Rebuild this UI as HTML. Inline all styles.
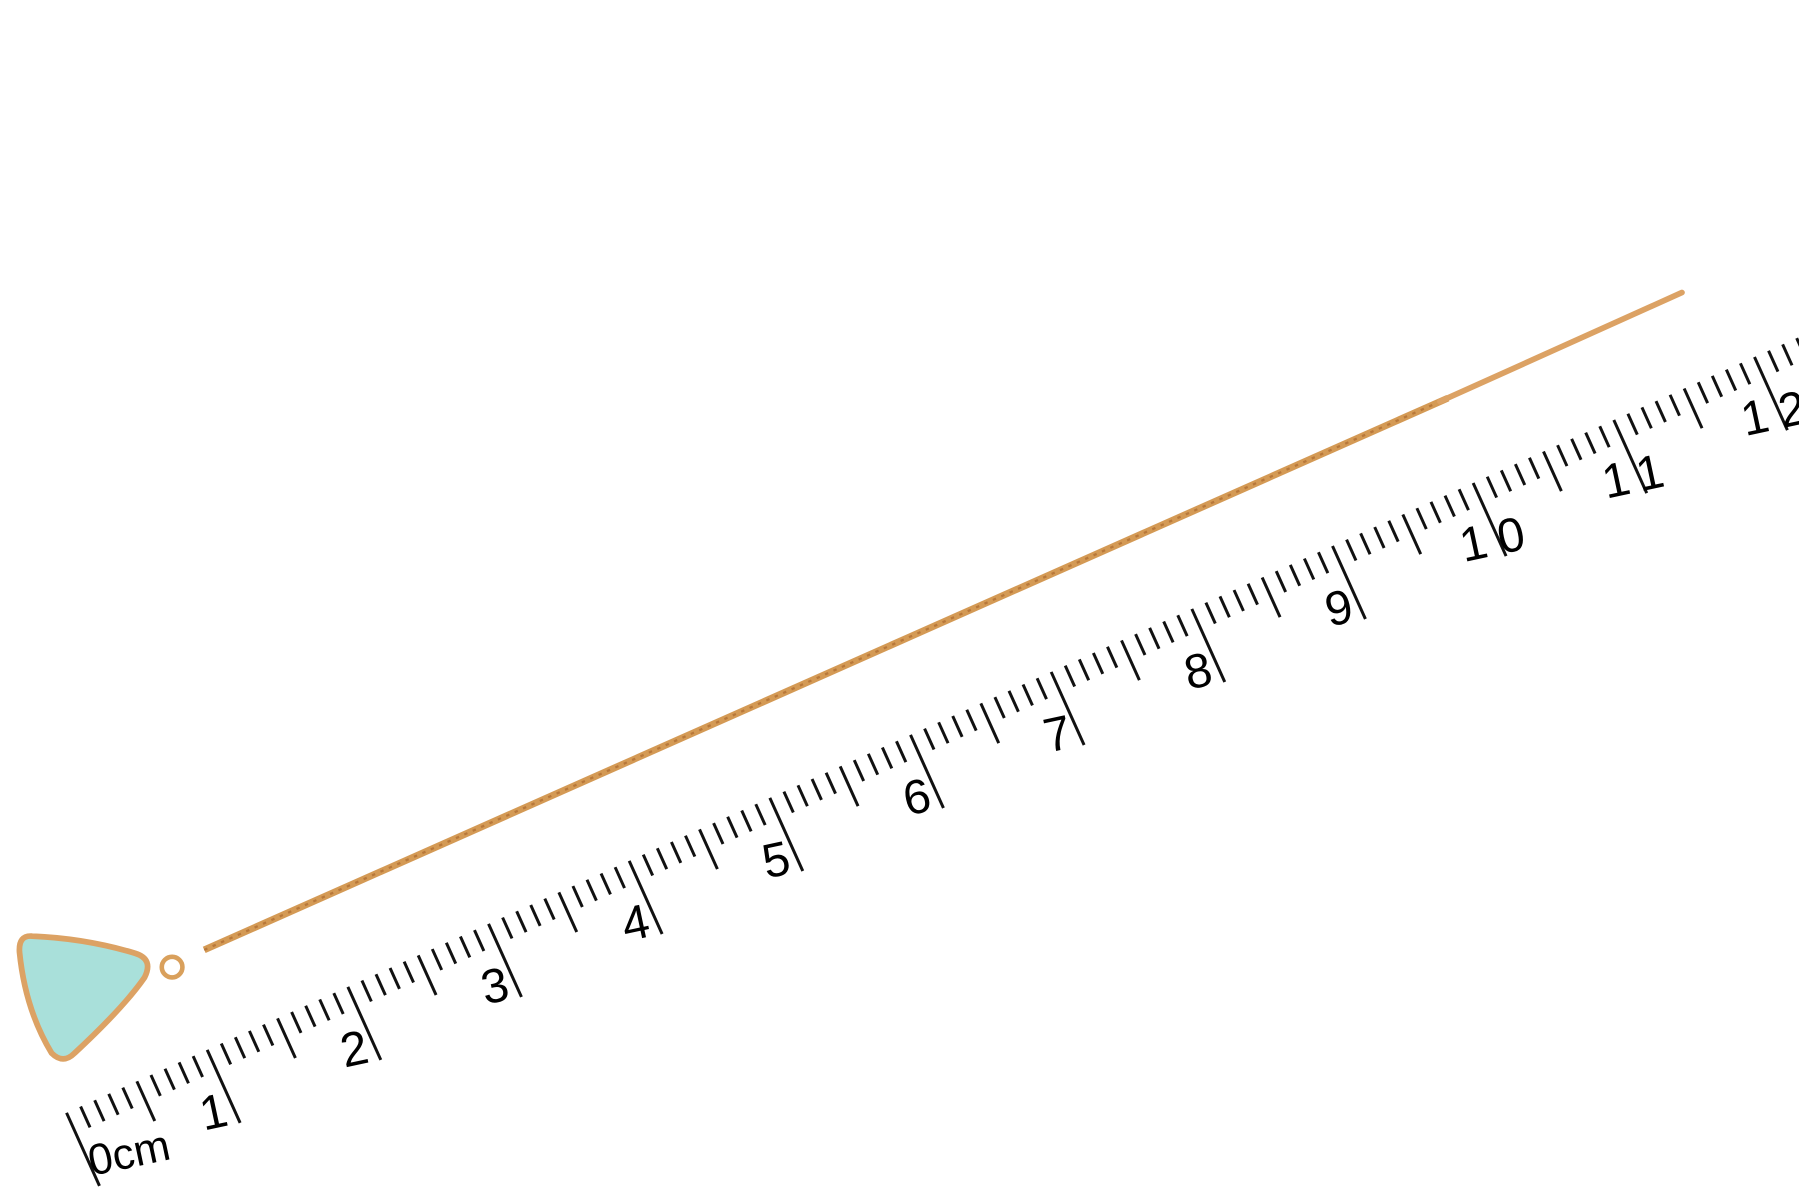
<!DOCTYPE html>
<html><head><meta charset="utf-8"><style>
html,body{margin:0;padding:0;background:#fff;width:1799px;height:1200px;overflow:hidden}
svg{display:block}
</style></head><body>
<svg width="1799" height="1200" viewBox="0 0 1568 1046" preserveAspectRatio="none" xmlns="http://www.w3.org/2000/svg">
<rect width="1568" height="1046" fill="#fff"/>
<g id="ruler"></g>
<line x1="178" y1="828" x2="1262" y2="347" stroke="#d49a55" stroke-width="6"/>
<line x1="178" y1="828" x2="1262" y2="347" stroke="#b8783a" stroke-width="2" stroke-dasharray="3 5"/>
<line x1="1255" y1="350" x2="1466" y2="255" stroke="#dca264" stroke-width="5" stroke-linecap="round"/>
<circle cx="150" cy="843" r="9" fill="none" stroke="#d9a05c" stroke-width="4"/>
<path d="M28 816 Q16 815 17 830 Q22 880 45 918 Q55 928 65 918 Q108 878 126 852 Q134 836 118 831 Q75 818 28 816Z" fill="#a9e0da" stroke="#dca264" stroke-width="5"/>
</svg>
<script>
const cmLabels=["0","1","2","3","4","5","6","7","8","9","10","11","12"];
const mmCount=125;
const g=document.getElementById('ruler');
const NS='http://www.w3.org/2000/svg';
const base=[58,970], step=[122.6,-54.9], u=[0.41,0.91];
function pos(mm){return [base[0]+step[0]*mm/10, base[1]+step[1]*mm/10];}
for(let m=0;m<=mmCount;m++){
  const p=pos(m);
  const len = m%10===0?70:(m%5===0?38:20);
  const l=document.createElementNS(NS,'line');
  
  
  l.setAttribute('x1',p[0]);l.setAttribute('y1',p[1]);
  l.setAttribute('x2',p[0]+u[0]*len);l.setAttribute('y2',p[1]+u[1]*len);
  l.setAttribute('stroke','#111');l.setAttribute('stroke-width',2.6);
  g.appendChild(l);
}
const ang=Math.atan2(step[1],step[0])*180/Math.PI*0.5;
cmLabels.forEach((t,i)=>{
  const p=pos(i*10);
  let cx=p[0]+u[0]*52, cy=p[1]+u[1]*52;
  if(t.length===1){cx-=16;cy+=6;}
  const tx=document.createElementNS(NS,'text');
  
  
  tx.setAttribute('x',cx);tx.setAttribute('y',cy+15);
  tx.setAttribute('text-anchor','middle');
  tx.setAttribute('font-family','Liberation Sans, sans-serif');
  tx.setAttribute('font-size','42');
  tx.setAttribute('letter-spacing', t.length>1?'10':'0');
  tx.setAttribute('transform','rotate('+ang+' '+cx+' '+cy+')');
  tx.textContent = i===0 ? '' : t;
  g.appendChild(tx);
});
const z=document.createElementNS(NS,'text');


z.setAttribute('x',80);z.setAttribute('y',1025);
z.setAttribute('font-family','Liberation Sans, sans-serif');
z.setAttribute('font-size','38');
z.setAttribute('transform','rotate(-12 80 1025)');
z.textContent='0cm';
g.appendChild(z);
</script>
</body></html>
